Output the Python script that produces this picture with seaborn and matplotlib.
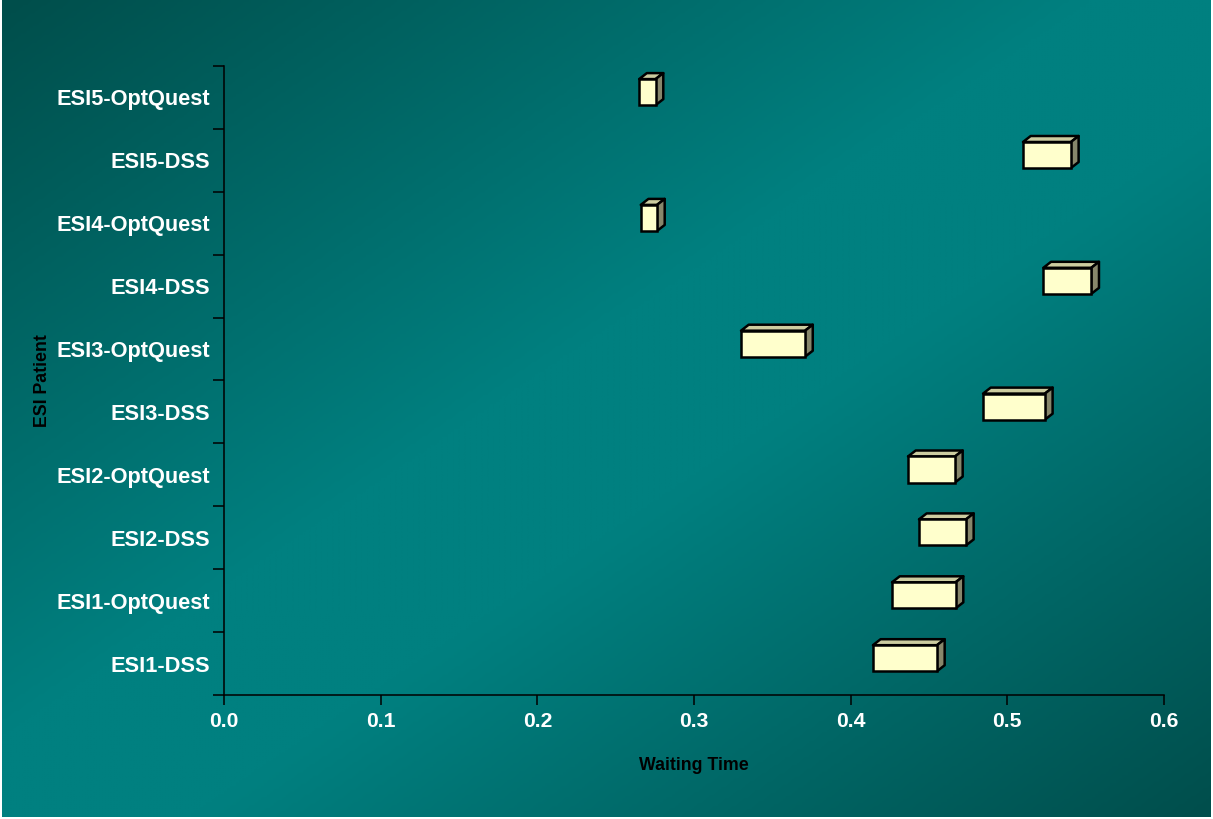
import numpy as np
import pandas as pd
import matplotlib
matplotlib.use("Agg")
import matplotlib.pyplot as plt
from matplotlib.colors import LinearSegmentedColormap
from matplotlib.patches import Polygon
import seaborn as sns

# ---- data ----
categories = ["ESI5-OptQuest", "ESI5-DSS", "ESI4-OptQuest", "ESI4-DSS",
              "ESI3-OptQuest", "ESI3-DSS", "ESI2-OptQuest", "ESI2-DSS",
              "ESI1-OptQuest", "ESI1-DSS"]
low = [0.265, 0.510, 0.266, 0.523, 0.330, 0.4845, 0.4366, 0.4436, 0.4264, 0.4142]
high = [0.2755, 0.5406, 0.2764, 0.5536, 0.3709, 0.524, 0.4666, 0.4736, 0.467, 0.4551]
x_ticks = [0.0, 0.1, 0.2, 0.3, 0.4, 0.5, 0.6]
x_ticklabels = ["0.0", "0.1", "0.2", "0.3", "0.4", "0.5", "0.6"]
x_label = "Waiting Time"
y_label = "ESI Patient"

df = pd.DataFrame({"cat": categories, "low": low, "high": high})
df["span"] = df["high"] - df["low"]

sns.set_style("ticks")
plt.rcParams["font.family"] = ["Liberation Sans", "DejaVu Sans"]
plt.rcParams["font.weight"] = "bold"

W, H = 1213, 819
fig = plt.figure(figsize=(W / 100, H / 100), dpi=100)
fig.patch.set_facecolor("white")

# ---- gradient background ----
bg = fig.add_axes([2 / W, 2 / H, (W - 4) / W, (H - 2) / H], zorder=-10)
gx, gy = np.meshgrid(np.linspace(0, 1, 400), np.linspace(0, 1, 300))
t = (gx + gy) / 2.0
cmap = LinearSegmentedColormap.from_list(
    "teal", [(0.0, "#004e4b"), (0.45, "#008080"), (0.58, "#008080"), (1.0, "#004e4c")])
bg.imshow(t, cmap=cmap, aspect="auto", extent=[0, 1, 1, 0], interpolation="bilinear")
bg.set_axis_off()

# ---- main axes ----
ax = fig.add_axes([224 / W, 1 - 695 / H, 940 / W, 629 / H])
ax.set_facecolor("none")

front_h = 0.414
sns.barplot(data=df, x="span", y="cat", orient="h", color="#FFFFCC",
            width=front_h, edgecolor="black", linewidth=1.8,
            saturation=1, ax=ax, zorder=3)

dx = 0.0049   # depth in data units (x)
dy = 0.095    # depth in category units (y, upward)
top_off = -0.292
for i, (patch, lo, hi) in enumerate(zip(ax.patches, df["low"], df["high"])):
    patch.set_x(lo)
    patch.set_width(hi - lo)
    patch.set_y(i + top_off)
    patch.set_height(front_h)
    y0 = i + top_off
    y1 = y0 + front_h
    top = Polygon([(lo, y0), (hi, y0), (hi + dx, y0 - dy), (lo + dx, y0 - dy)],
                  closed=True, facecolor="#CCCCA0", edgecolor="black",
                  linewidth=1.8, joinstyle="round", zorder=2)
    side = Polygon([(hi, y0), (hi + dx, y0 - dy), (hi + dx, y1 - dy), (hi, y1)],
                   closed=True, facecolor="#87876B", edgecolor="black",
                   linewidth=1.8, joinstyle="round", zorder=2)
    ax.add_patch(top)
    ax.add_patch(side)

ax.set_xlim(0, 0.6)
ax.set_ylim(len(categories) - 0.5, -0.5)

ax.set_xticks(x_ticks)
ax.set_xticklabels(x_ticklabels)
ax.set_yticks(np.arange(-0.5, len(categories), 1.0))
ax.set_yticklabels([])
ax.set_yticks(np.arange(len(categories)), minor=True)
ax.set_yticklabels(categories, minor=True)

ax.tick_params(axis="x", which="major", direction="out", length=7.5, width=1.1,
               color="black", labelcolor="white", labelsize=15.2, pad=5)
ax.tick_params(axis="y", which="major", direction="out", length=8, width=1.1,
               color="black")
ax.tick_params(axis="y", which="minor", length=0, labelcolor="white",
               labelsize=15.7, pad=10)
for lab in ax.get_xticklabels() + ax.get_yticklabels(minor=True):
    lab.set_fontweight("bold")

for s in ["top", "right"]:
    ax.spines[s].set_visible(False)
for s in ["left", "bottom"]:
    ax.spines[s].set_color("black")
    ax.spines[s].set_linewidth(1.1)

ax.set_xlabel(x_label, fontsize=12.8, fontweight="bold", color="black")
ax.set_ylabel(y_label, fontsize=12.8, fontweight="bold", color="black")
ax.xaxis.set_label_coords(0.5, -0.0986)
ax.yaxis.set_label_coords(-0.184, 0.5)

fig.savefig("out.png", dpi=100, facecolor=fig.get_facecolor())
